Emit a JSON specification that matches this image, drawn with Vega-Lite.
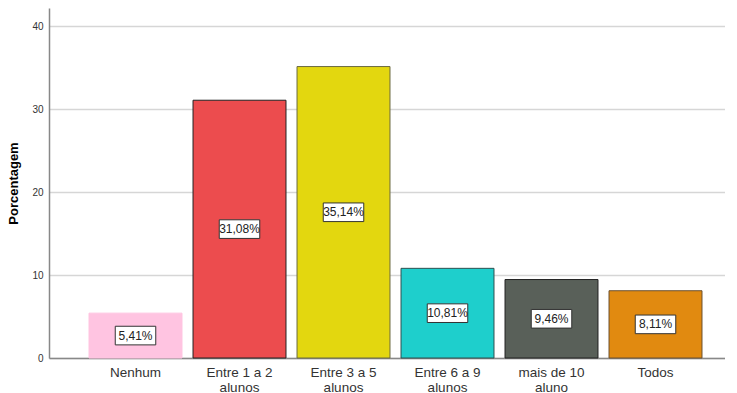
{
  "$schema": "https://vega.github.io/schema/vega-lite/v6.json",
  "width": 676,
  "height": 350,
  "padding": {"left": 7, "top": 8, "right": 0, "bottom": 0},
  "background": "white",
  "config": {
    "view": {"stroke": null},
    "font": "Liberation Sans"
  },
  "data": {
    "values": [
      {"cat": "Nenhum", "pct": 5.41, "label": "5,41%"},
      {"cat": "Entre 1 a 2\nalunos", "pct": 31.08, "label": "31,08%"},
      {"cat": "Entre 3 a 5\nalunos", "pct": 35.14, "label": "35,14%"},
      {"cat": "Entre 6 a 9\nalunos", "pct": 10.81, "label": "10,81%"},
      {"cat": "mais de 10\naluno", "pct": 9.46, "label": "9,46%"},
      {"cat": "Todos", "pct": 8.11, "label": "8,11%"}
    ]
  },
  "encoding": {
    "x": {
      "field": "cat",
      "type": "nominal",
      "sort": null,
      "scale": {"paddingInner": 0.106, "paddingOuter": 0.303, "align": 0.635},
      "axis": {
        "title": null,
        "labelAngle": 0,
        "labelExpr": "split(datum.label, '\\n')",
        "labelFontSize": 13.5,
        "labelColor": "#333333",
        "labelPadding": 7,
        "labelLineHeight": 15,
        "ticks": false,
        "domainColor": "#888888",
        "domainWidth": 1.5
      }
    },
    "y": {
      "field": "pct",
      "type": "quantitative",
      "scale": {"domain": [0, 42.2], "nice": false},
      "axis": {
        "title": "Porcentagem",
        "titleFontSize": 13,
        "titleFontWeight": "bold",
        "titleColor": "#000000",
        "titlePadding": 11,
        "values": [0, 10, 20, 30, 40],
        "labelFontSize": 10,
        "labelColor": "#333333",
        "labelPadding": 6,
        "ticks": false,
        "domainColor": "#888888",
        "domainWidth": 1.5,
        "gridColor": "#d6d6d6",
        "gridWidth": 1.5
      }
    }
  },
  "layer": [
    {
      "mark": {"type": "bar", "strokeWidth": 1},
      "encoding": {
        "color": {
          "field": "cat",
          "type": "nominal",
          "sort": null,
          "legend": null,
          "scale": {"range": ["#ffc4e1", "#ec4c4e", "#e3d70f", "#1ecfcc", "#596059", "#e18a10"]}
        },
        "stroke": {
          "field": "cat",
          "type": "nominal",
          "sort": null,
          "legend": null,
          "scale": {"range": ["#ffc4e1", "#222222", "#6b6a40", "#2e5050", "#222222", "#6b5030"]}
        }
      }
    },
    {
      "transform": [{"calculate": "datum.pct / 2", "as": "mid"}],
      "mark": {
        "type": "point",
        "shape": "M-1,-0.46L1,-0.46L1,0.46L-1,0.46Z",
        "size": 1640,
        "filled": true,
        "fill": "white",
        "stroke": "#333333",
        "strokeWidth": 1,
        "opacity": 1
      },
      "encoding": {"y": {"field": "mid", "type": "quantitative"}}
    },
    {
      "transform": [{"calculate": "datum.pct / 2", "as": "mid"}],
      "mark": {"type": "text", "fontSize": 12, "color": "#222222", "baseline": "middle"},
      "encoding": {
        "y": {"field": "mid", "type": "quantitative"},
        "text": {"field": "label"}
      }
    }
  ]
}
